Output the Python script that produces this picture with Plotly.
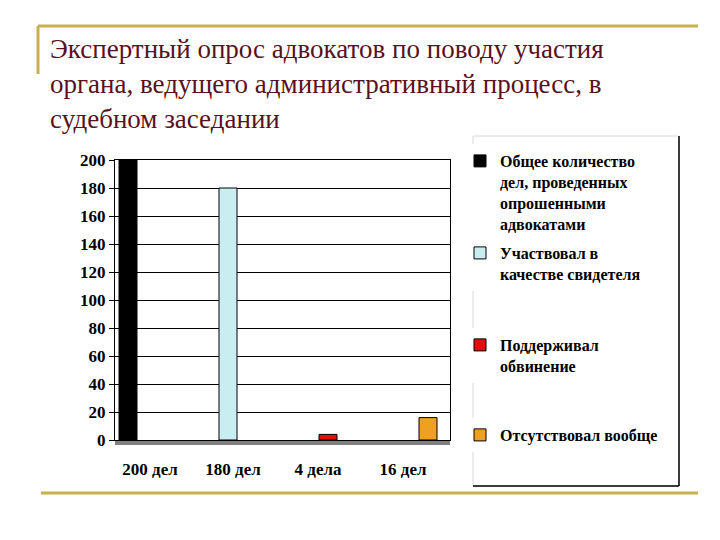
import plotly.graph_objects as go

# ---- data ----
series_names = [
    "Общее количество<br>дел, проведенных<br>опрошенными<br>адвокатами",
    "Участвовал в<br>качестве свидетеля",
    "Поддерживал<br>обвинение",
    "Отсутствовал вообще",
]
case_counts = [200, 180, 4, 16]
tick_labels = ["200 дел", "180 дел", "4 дела", "16 дел"]
bar_colors = ["#000000", "#c8eef2", "#e01010", "#f0a020"]
y_ticks = list(range(0, 201, 20))

title_text = ("Экспертный опрос адвокатов по поводу участия<br>"
              "органа, ведущего административный процесс, в<br>"
              "судебном заседании")

W, H = 720, 540
PL, PR, PT, PB = 107, 442, 152, 432   # plot area in pixels


def px_x(p):
    return (p - PL) / (PR - PL)


def px_y(p):
    return (PB - p) / (PB - PT)


SERIF = "Times New Roman"
GOLD = "#c8b050"

fig = go.Figure()
legend_ids = ["legend", "legend2", "legend3", "legend4"]
for i, (name, val, col) in enumerate(zip(series_names, case_counts, bar_colors)):
    fig.add_bar(
        x=[i], y=[val], name=name, width=0.18,
        marker=dict(color=col, line=dict(color="#000000", width=1)),
        legend=legend_ids[i],
    )

legend_tops = [136, 228, 320, 410]
legends = {}
for lid, top in zip(legend_ids, legend_tops):
    legends[lid] = dict(
        x=px_x(452), y=px_y(top), xanchor="left", yanchor="top",
        itemwidth=30, valign="top",
        font=dict(family=SERIF, size=16, color="#000000", weight="bold"),
    )

shapes = [
    # slide decoration
    dict(type="line", xref="paper", yref="paper", x0=px_x(30), x1=px_x(690),
         y0=px_y(18), y1=px_y(18), line=dict(color=GOLD, width=3)),
    dict(type="line", xref="paper", yref="paper", x0=px_x(30), x1=px_x(30),
         y0=px_y(18), y1=px_y(66), line=dict(color=GOLD, width=3)),
    dict(type="line", xref="paper", yref="paper", x0=px_x(33), x1=px_x(690),
         y0=px_y(485), y1=px_y(485), line=dict(color=GOLD, width=3)),
    # chart floor
    dict(type="rect", xref="paper", yref="paper", x0=0, x1=1,
         y0=px_y(437), y1=0, fillcolor="#808080", line=dict(width=0), layer="below"),
    # legend box
    dict(type="rect", xref="paper", yref="paper", x0=px_x(465), x1=px_x(671),
         y0=px_y(478), y1=px_y(128), line=dict(color="#d8d8d8", width=1)),
    dict(type="line", xref="paper", yref="paper", x0=px_x(671), x1=px_x(671),
         y0=px_y(478), y1=px_y(128), line=dict(color="#000000", width=1.5)),
    dict(type="line", xref="paper", yref="paper", x0=px_x(465), x1=px_x(671),
         y0=px_y(478), y1=px_y(478), line=dict(color="#000000", width=1.5)),
]

fig.update_layout(
    template="none",
    width=W, height=H,
    margin=dict(l=PL, r=W - PR, t=PT, b=H - PB),
    font=dict(family=SERIF, color="#000000"),
    showlegend=True, shapes=shapes,
    annotations=[dict(
        text=title_text, xref="paper", yref="paper",
        x=px_x(40), y=px_y(24), xanchor="left", yanchor="top", align="left",
        showarrow=False, font=dict(family=SERIF, size=27, color="#5a1020"),
    )],
    **legends,
)

fig.update_xaxes(
    range=[-0.13, 3.22],
    tickvals=[0.22, 1.05, 1.9, 2.75], ticktext=tick_labels,
    ticks="outside", ticklen=14, tickcolor="rgba(0,0,0,0)",
    showgrid=False, zeroline=False,
    showline=True, linecolor="#000000", linewidth=1, mirror=True,
    tickfont=dict(family=SERIF, size=17, color="#000000", weight="bold"),
)
fig.update_yaxes(
    range=[0, 200], tickvals=y_ticks,
    ticks="outside", ticklen=5, tickcolor="#000000",
    showgrid=True, gridcolor="#000000", gridwidth=1, zeroline=False,
    showline=True, linecolor="#000000", linewidth=1, mirror=True,
    tickfont=dict(family=SERIF, size=17, color="#000000", weight="bold"),
)

fig.write_html("out.html")
